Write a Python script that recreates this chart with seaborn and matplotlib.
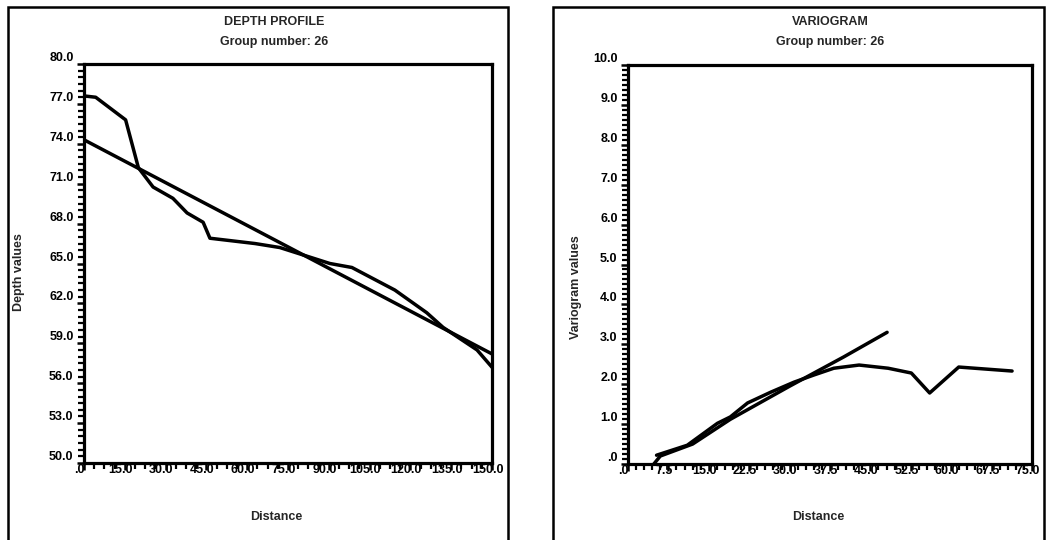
import matplotlib
matplotlib.use("Agg")
import matplotlib.pyplot as plt
import matplotlib.transforms as mtransforms
from matplotlib.patches import Rectangle
from matplotlib.ticker import MultipleLocator
import seaborn as sns

# depth profile (distance vs depth) and its linear trend
profile_dist = [0, 4.3, 15.3, 20.0, 25.4, 32.7, 37.9, 43.8, 46.3, 62.9, 72.0,
                90.4, 98.5, 114.3, 126.0, 132.0, 144.5, 150.0]
profile_depth = [77.6, 77.5, 75.8, 72.2, 70.75, 69.9, 68.8, 68.1, 66.9, 66.5, 66.2,
                 65.0, 64.7, 63.0, 61.3, 60.2, 58.5, 57.2]
trend_dist = [0, 150]
trend_depth = [74.3, 58.2]

# experimental variogram and fitted model
vario_lag = [5.3, 11.0, 16.6, 19.0, 22.2, 26.5, 30.8, 34.5, 38.2, 42.9, 48.3,
             52.6, 56.0, 61.4, 71.3]
vario_gamma = [0.22, 0.47, 1.02, 1.18, 1.53, 1.80, 2.05, 2.23, 2.40, 2.48, 2.40,
               2.28, 1.78, 2.43, 2.33]
model_lag = [4.8, 6.0, 12.0, 19.0, 30.0, 40.0, 48.1]
model_gamma = [0.0, 0.2, 0.5, 1.12, 1.95, 2.68, 3.3]

depth_ticks = [50, 53, 56, 59, 62, 65, 68, 71, 74, 77, 80]
depth_labels = ["50.0", "53.0", "56.0", "59.0", "62.0", "65.0", "68.0", "71.0",
                "74.0", "77.0", "80.0"]
dist_ticks = [0, 15, 30, 45, 60, 75, 90, 105, 120, 135, 150]
dist_labels = [".0", "15.0", "30.0", "45.0", "60.0", "75.0", "90.0", "105.0",
               "120.0", "135.0", "150.0"]
vario_ticks = [0, 1, 2, 3, 4, 5, 6, 7, 8, 9, 10]
vario_labels = [".0", "1.0", "2.0", "3.0", "4.0", "5.0", "6.0", "7.0", "8.0",
                "9.0", "10.0"]
lag_ticks = [0, 7.5, 15, 22.5, 30, 37.5, 45, 52.5, 60, 67.5, 75]
lag_labels = [".0", "7.5", "15.0", "22.5", "30.0", "37.5", "45.0", "52.5",
              "60.0", "67.5", "75.0"]

sns.set_style("white")
plt.rcParams["font.family"] = ["Liberation Sans", "DejaVu Sans"]
plt.rcParams["font.weight"] = "bold"

W, H = 1063, 540
fig = plt.figure(figsize=(W / 100, H / 100), dpi=100)


def fx(px):
    return px / W


def fy(py):
    return 1 - py / H


def style_axes(ax, xt, xl, yt, yl, xminor, yminor):
    ax.set_xticks(xt)
    ax.set_xticklabels(xl)
    ax.set_yticks(yt)
    ax.set_yticklabels(yl)
    ax.xaxis.set_minor_locator(MultipleLocator(xminor))
    ax.yaxis.set_minor_locator(MultipleLocator(yminor))
    ax.tick_params(which="both", bottom=True, left=True, top=False, right=False)
    ax.tick_params(which="major", direction="out", length=5, width=1.8,
                   labelsize=9, colors="black")
    ax.tick_params(which="minor", direction="out", length=4.5, width=1.6,
                   colors="black")
    ax.tick_params(axis="x", which="major", pad=-4.5)
    ax.tick_params(axis="y", which="major", pad=2.5)
    for s in ax.spines.values():
        s.set_visible(True)
        s.set_color("black")
        s.set_linewidth(2.3)
    for lab in ax.get_yticklabels():
        lab.set_va("bottom")
    shift = mtransforms.ScaledTranslation(-3 / 72, 0, fig.dpi_scale_trans)
    for lab in ax.get_xticklabels():
        lab.set_transform(lab.get_transform() + shift)
    ax.set_xlabel("")
    ax.set_ylabel("")


# left panel: depth profile
ax1 = fig.add_axes([fx(84), fy(463), fx(492) - fx(84), fy(64) - fy(463)])
sns.lineplot(x=profile_dist, y=profile_depth, ax=ax1, color="black",
             linewidth=2.5, sort=False, estimator=None)
sns.lineplot(x=trend_dist, y=trend_depth, ax=ax1, color="black",
             linewidth=2.5, sort=False, estimator=None)
ax1.set_xlim(0, 150)
ax1.set_ylim(50, 80)
style_axes(ax1, dist_ticks, dist_labels, depth_ticks, depth_labels, 3.75, 0.5)

# right panel: variogram
ax2 = fig.add_axes([fx(628), fy(464), fx(1032) - fx(628), fy(65) - fy(464)])
sns.lineplot(x=vario_lag, y=vario_gamma, ax=ax2, color="black",
             linewidth=2.5, sort=False, estimator=None)
sns.lineplot(x=model_lag, y=model_gamma, ax=ax2, color="black",
             linewidth=2.5, sort=False, estimator=None)
ax2.set_xlim(0, 75)
ax2.set_ylim(0, 10)
style_axes(ax2, lag_ticks, lag_labels, vario_ticks, vario_labels, 1.5, 0.125)

# outer frames of the two printouts
for x0, x1 in [(8, 508), (553, 1044)]:
    fig.add_artist(Rectangle((fx(x0), -0.05), fx(x1) - fx(x0), fy(7) + 0.05,
                             transform=fig.transFigure, fill=False,
                             edgecolor="black", linewidth=1.8, clip_on=False))

# titles and axis labels
txt = dict(ha="center", va="center", fontsize=9, fontweight="bold")
fig.text(fx(274), fy(22), "DEPTH PROFILE", **txt)
fig.text(fx(274), fy(42), "Group number: 26", **txt)
fig.text(fx(830), fy(22), "VARIOGRAM", **txt)
fig.text(fx(830), fy(42), "Group number: 26", **txt)
fig.text(fx(276), fy(517), "Distance", **txt)
fig.text(fx(818), fy(517), "Distance", **txt)
fig.text(fx(19), fy(272), "Depth values", rotation=90, **txt)
fig.text(fx(576), fy(287), "Variogram values", rotation=90, **txt)

fig.savefig("out.png", dpi=100, facecolor="white")
